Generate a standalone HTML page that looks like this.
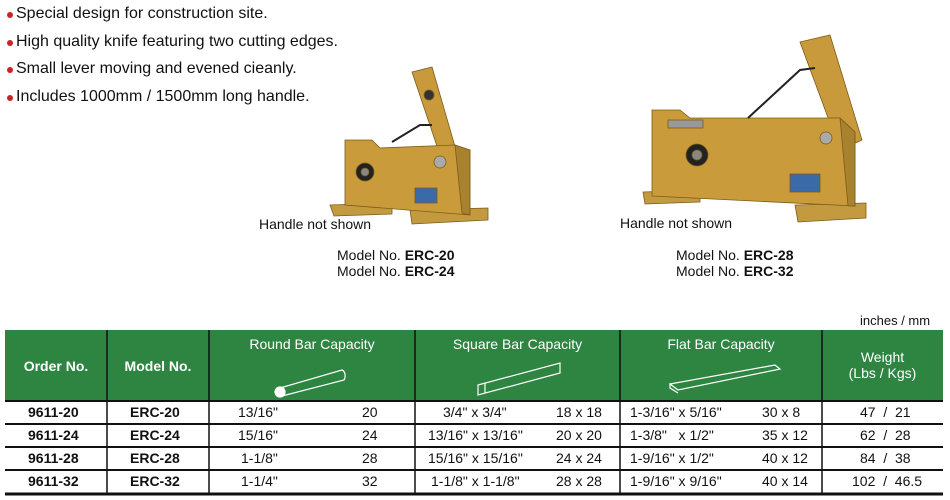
<!DOCTYPE html>
<html><head><style>
body{margin:0;width:950px;height:500px;background:#fff;position:relative;overflow:hidden;font-family:"Liberation Sans",sans-serif;}
.t{position:absolute;white-space:nowrap;color:#111;}
.b{font-size:16px;left:16px;}
.dot{position:absolute;width:6px;height:6px;border-radius:50%;background:#d0202a;left:7px;}
.h{position:absolute;color:#fff;font-weight:bold;font-size:14px;text-align:center;white-space:nowrap;}
.hn{font-weight:normal;}
.d{position:absolute;left:0;top:404px;width:950px;font-size:14px;color:#111;}
.d div{position:absolute;white-space:pre;}
</style></head><body>
<div class="dot" style="top:12px"></div><div class="t b" style="top:5px">Special design for construction site.</div>
<div class="dot" style="top:40px"></div><div class="t b" style="top:33px">High quality knife featuring two cutting edges.</div>
<div class="dot" style="top:67px"></div><div class="t b" style="top:60px">Small lever moving and evened cieanly.</div>
<div class="dot" style="top:95px"></div><div class="t b" style="top:88px">Includes 1000mm / 1500mm long handle.</div>

<svg style="position:absolute;left:0;top:0" width="950" height="330">
<g stroke="#7a5c18" stroke-width="0.8">
<polygon points="412,72 432,67 456,150 440,155" fill="#c89a3c"/>
<polygon points="330,205 392,203 392,214 334,216" fill="#c49a40"/>
<polygon points="410,210 488,208 488,220 412,224" fill="#c49a40"/>
<polygon points="345,140 372,140 380,148 455,145 470,150 470,215 345,205" fill="#c99b3a"/>
<polygon points="455,145 470,150 470,215 462,213" fill="#a9822f"/>
<circle cx="365" cy="172" r="9" fill="#222"/><circle cx="365" cy="172" r="4" fill="#888"/>
<circle cx="440" cy="162" r="6" fill="#aaa"/>
<circle cx="429" cy="95" r="5" fill="#333"/>
<rect x="415" y="188" width="22" height="15" fill="#3a6aa8"/>
</g>
<path d="M392 142 L420 125 L432 125" stroke="#222" stroke-width="2" fill="none"/>
<g stroke="#7a5c18" stroke-width="0.8">
<polygon points="800,42 830,35 862,140 840,150" fill="#c89a3c"/>
<polygon points="643,192 700,190 700,202 645,204" fill="#c49a40"/>
<polygon points="795,205 866,203 866,218 798,222" fill="#c49a40"/>
<polygon points="652,110 680,110 690,118 840,118 855,132 855,206 652,196" fill="#c99b3a"/>
<polygon points="840,118 855,132 855,206 848,206" fill="#a9822f"/>
<circle cx="697" cy="155" r="11" fill="#222"/><circle cx="697" cy="155" r="5" fill="#888"/>
<circle cx="826" cy="138" r="6" fill="#aaa"/>
<rect x="668" y="120" width="35" height="8" fill="#999"/>
<rect x="790" y="174" width="30" height="18" fill="#3a6aa8"/>
</g>
<path d="M748 118 L800 70 L815 68" stroke="#222" stroke-width="2" fill="none"/>
</svg>

<div class="t" style="left:259px;top:216px;font-size:14px">Handle not shown</div>
<div class="t" style="left:337px;top:247px;font-size:14px">Model No. <b>ERC-20</b></div>
<div class="t" style="left:337px;top:263px;font-size:14px">Model No. <b>ERC-24</b></div>
<div class="t" style="left:620px;top:215px;font-size:14px">Handle not shown</div>
<div class="t" style="left:676px;top:247px;font-size:14px">Model No. <b>ERC-28</b></div>
<div class="t" style="left:676px;top:263px;font-size:14px">Model No. <b>ERC-32</b></div>
<div class="t" style="left:860px;top:313px;font-size:13px">inches / mm</div>

<svg style="position:absolute;left:0;top:0" width="950" height="500">
<rect x="5" y="330" width="938" height="71" fill="#2e8542"/>
<g stroke="#111" stroke-width="1.5">
<line x1="107" y1="330" x2="107" y2="493"/><line x1="209" y1="330" x2="209" y2="493"/>
<line x1="415" y1="330" x2="415" y2="493"/><line x1="620" y1="330" x2="620" y2="493"/>
<line x1="822" y1="330" x2="822" y2="493"/>
</g>
<g stroke="#111" stroke-width="2">
<line x1="5" y1="401" x2="943" y2="401"/><line x1="5" y1="424" x2="943" y2="424"/>
<line x1="5" y1="447" x2="943" y2="447"/><line x1="5" y1="470" x2="943" y2="470"/>
</g>
<line x1="5" y1="494" x2="943" y2="494" stroke="#111" stroke-width="3"/>
<g stroke="#fff" stroke-width="1.2" fill="none">
<path d="M280 388 L342 370 A4 6 0 0 1 344 380 L282 396"/>
<circle cx="280" cy="392" r="5" fill="#fff"/>
<path d="M478 385 L560 363 L560 373 L478 395 Z M478 385 L485 383 L485 393"/>
<path d="M670 384 L775 365 L780 369 L678 390 Z M670 384 L670 388 L678 393"/>
</g>
</svg>
<div class="h" style="left:5px;width:102px;top:358px">Order No.</div>
<div class="h" style="left:107px;width:102px;top:358px">Model No.</div>
<div class="h hn" style="left:209px;width:206px;top:336px">Round Bar Capacity</div>
<div class="h hn" style="left:415px;width:205px;top:336px">Square Bar Capacity</div>
<div class="h hn" style="left:620px;width:202px;top:336px">Flat Bar Capacity</div>
<div class="h hn" style="left:822px;width:121px;top:349px;line-height:16px">Weight<br>(Lbs / Kgs)</div>

<div class="d">
<div style="top:0;left:28px;font-weight:bold">9611-20</div>
<div style="top:23px;left:28px;font-weight:bold">9611-24</div>
<div style="top:46px;left:28px;font-weight:bold">9611-28</div>
<div style="top:69px;left:28px;font-weight:bold">9611-32</div>
<div style="top:0;left:130px;font-weight:bold">ERC-20</div>
<div style="top:23px;left:130px;font-weight:bold">ERC-24</div>
<div style="top:46px;left:130px;font-weight:bold">ERC-28</div>
<div style="top:69px;left:130px;font-weight:bold">ERC-32</div>
<div style="top:0;left:238px">13/16"</div>
<div style="top:23px;left:238px">15/16"</div>
<div style="top:46px;left:241px">1-1/8"</div>
<div style="top:69px;left:241px">1-1/4"</div>
<div style="top:0;left:362px">20</div>
<div style="top:23px;left:362px">24</div>
<div style="top:46px;left:362px">28</div>
<div style="top:69px;left:362px">32</div>
<div style="top:0;left:443px">3/4" x 3/4"</div>
<div style="top:23px;left:428px">13/16" x 13/16"</div>
<div style="top:46px;left:428px">15/16" x 15/16"</div>
<div style="top:69px;left:431px">1-1/8" x 1-1/8"</div>
<div style="top:0;left:556px">18 x 18</div>
<div style="top:23px;left:556px">20 x 20</div>
<div style="top:46px;left:556px">24 x 24</div>
<div style="top:69px;left:556px">28 x 28</div>
<div style="top:0;left:630px">1-3/16" x 5/16"</div>
<div style="top:23px;left:630px">1-3/8"   x 1/2"</div>
<div style="top:46px;left:630px">1-9/16" x 1/2"</div>
<div style="top:69px;left:630px">1-9/16" x 9/16"</div>
<div style="top:0;left:762px">30 x 8</div>
<div style="top:23px;left:762px">35 x 12</div>
<div style="top:46px;left:762px">40 x 12</div>
<div style="top:69px;left:762px">40 x 14</div>
<div style="top:0;left:860px">47  /  21</div>
<div style="top:23px;left:860px">62  /  28</div>
<div style="top:46px;left:860px">84  /  38</div>
<div style="top:69px;left:852px">102  /  46.5</div>
</div>
</body></html>
